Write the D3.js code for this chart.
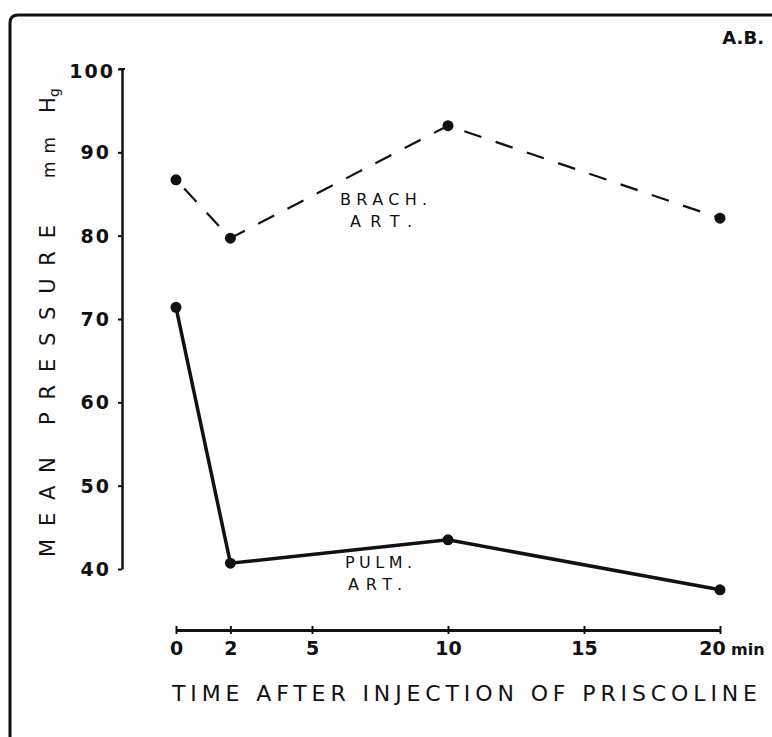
<!DOCTYPE html>
<html>
<head>
<meta charset="utf-8">
<script src="https://cdn.jsdelivr.net/npm/d3@7"></script>
<style>
  body { margin: 0; background: #fff; }
  svg { display: block; }
  text { font-family: "DejaVu Sans", sans-serif; fill: #111; }
</style>
</head>
<body>
<div id="chart"></div>
<script>
// data
var times = [0, 2, 10, 20];
var brach = [86.7, 79.7, 93.2, 82.1];   // brachial artery, dashed
var pulm = [71.4, 40.7, 43.5, 37.5];    // pulmonary artery, solid
var yTicks = [40, 50, 60, 70, 80, 90, 100];
var xTicks = [0, 2, 5, 10, 15, 20];

var width = 772, height = 737;

var svg = d3.select("#chart").append("svg")
    .attr("width", width)
    .attr("height", height);

var x = d3.scaleLinear().domain([0, 20]).range([176, 720]);
var y = d3.scaleLinear().domain([40, 100]).range([569, 69]);

// frame (left + top only, rounded corner)
svg.append("path")
    .attr("d", "M10,737 L10,23 Q10,15 18,15 L772,15")
    .attr("fill", "none")
    .attr("stroke", "#111")
    .attr("stroke-width", 3);

// y axis
var yAxis = svg.append("g")
    .attr("transform", "translate(122,0)")
    .call(d3.axisLeft(y).tickValues(yTicks).tickSize(4).tickSizeOuter(0).tickPadding(7));
yAxis.select(".domain").attr("stroke", "#111").attr("stroke-width", 2.5);
yAxis.selectAll(".tick line").attr("stroke", "#111").attr("stroke-width", 2);
yAxis.selectAll(".tick text")
    .style("font-size", "19px")
    .style("font-weight", "bold")
    .style("letter-spacing", "2px")
    .attr("dy", "0.35em");
yAxis.selectAll(".tick").filter(function (d) { return d == 100; }).select("text")
    .attr("dy", "0.45em")
    .attr("dx", 4);
// top cap
yAxis.append("line")
    .attr("x1", -3).attr("x2", 3)
    .attr("y1", y(100)).attr("y2", y(100))
    .attr("stroke", "#111").attr("stroke-width", 2);

// x axis
var xAxis = svg.append("g")
    .attr("transform", "translate(0,630)")
    .call(d3.axisBottom(x).tickValues(xTicks).tickSize(4).tickSizeOuter(0).tickPadding(8));
xAxis.select(".domain").attr("stroke", "#111").attr("stroke-width", 3);
xAxis.selectAll(".tick line").attr("stroke", "#111").attr("stroke-width", 2).attr("y1", -4);
xAxis.selectAll(".tick text")
    .style("font-size", "19px")
    .style("font-weight", "bold");
xAxis.selectAll(".tick").filter(function (d) { return d == 20; }).select("text")
    .attr("dx", -8);
xAxis.append("text")
    .attr("x", x(20) + 11)
    .attr("y", 25)
    .attr("text-anchor", "start")
    .style("font-size", "16px")
    .style("font-weight", "bold")
    .style("fill", "#111")
    .text("min");

// axis titles
svg.append("text")
    .attr("x", 172).attr("y", 701)
    .attr("textLength", 585)
    .attr("lengthAdjust", "spacing")
    .style("font-size", "22px")
    .text("TIME AFTER INJECTION OF PRISCOLINE");

svg.append("text")
    .attr("transform", "translate(55,557) rotate(-90)")
    .attr("textLength", 332)
    .attr("lengthAdjust", "spacing")
    .style("font-size", "21px")
    .text("MEAN PRESSURE");

var mm = svg.append("text")
    .attr("transform", "translate(55,178) rotate(-90)")
    .style("font-size", "17px");
mm.append("tspan").text("m");
mm.append("tspan").attr("dx", 8).text("m");
mm.append("tspan").attr("dx", 24).style("font-size", "21px").text("H");
mm.append("tspan").attr("dy", 4).style("font-size", "14px").text("g");

// corner mark
svg.append("text")
    .attr("x", 764).attr("y", 44)
    .attr("text-anchor", "end")
    .style("font-size", "18px")
    .style("font-weight", "bold")
    .text("A.B.");

// series
var line = d3.line()
    .x(function (d, i) { return x(times[i]); })
    .y(function (d) { return y(d); });

svg.append("path")
    .datum(brach)
    .attr("d", line)
    .attr("fill", "none")
    .attr("stroke", "#111")
    .attr("stroke-width", 2.2)
    .attr("stroke-dasharray", "18 15")
    .attr("stroke-dashoffset", -12);

svg.append("path")
    .datum(pulm)
    .attr("d", line)
    .attr("fill", "none")
    .attr("stroke", "#111")
    .attr("stroke-width", 3.5);

[brach, pulm].forEach(function (s) {
    svg.append("g").selectAll("circle")
        .data(s)
        .enter().append("circle")
        .attr("cx", function (d, i) { return x(times[i]); })
        .attr("cy", function (d) { return y(d); })
        .attr("r", 5.5)
        .attr("fill", "#111");
});

// series labels: [x, baseline, width, text]
var labels = [
    [340, 205, 87, "BRACH."],
    [350, 227, 62, "ART."],
    [345, 568, 67, "PULM."],
    [348, 590, 54, "ART."]
];
svg.append("g").selectAll("text")
    .data(labels)
    .enter().append("text")
    .attr("x", function (d) { return d[0]; })
    .attr("y", function (d) { return d[1]; })
    .attr("textLength", function (d) { return d[2]; })
    .attr("lengthAdjust", "spacing")
    .style("font-size", "16px")
    .text(function (d) { return d[3]; });
</script>
</body>
</html>
